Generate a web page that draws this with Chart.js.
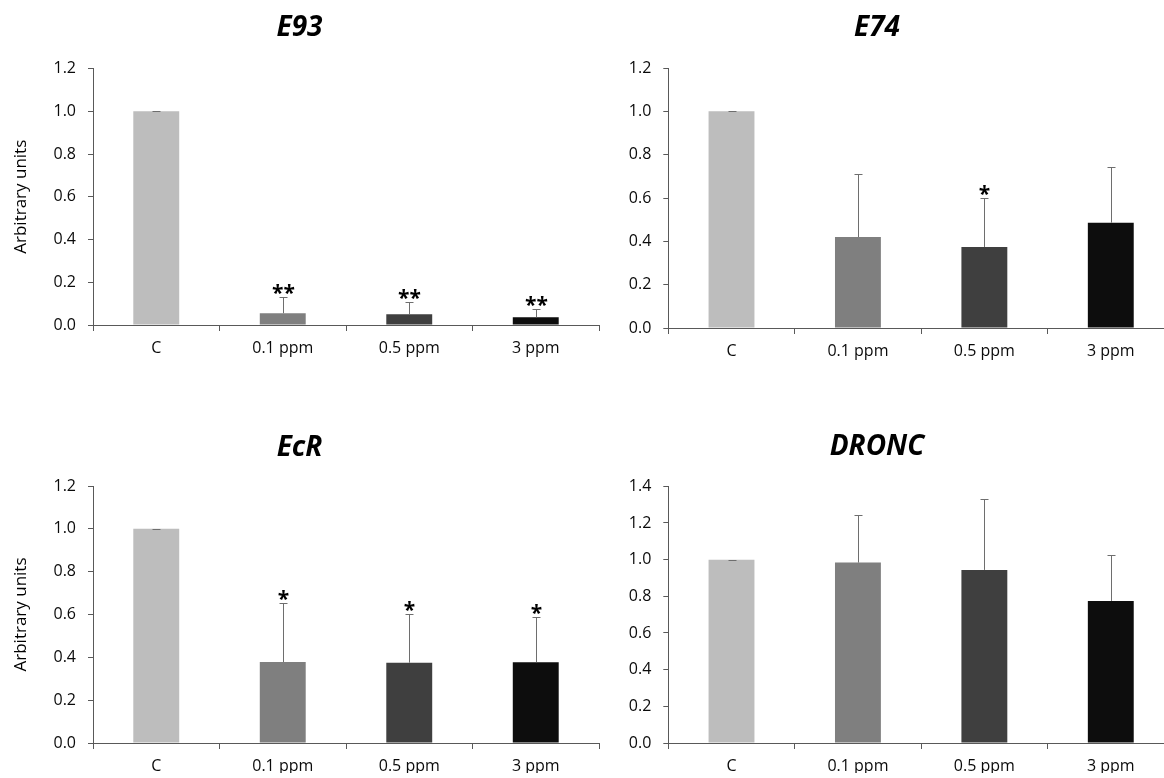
<!DOCTYPE html>
<html>
<head>
<meta charset="utf-8">
<title>Relative expression of ecdysone-related genes</title>
<script src="https://cdn.jsdelivr.net/npm/chart.js@4.4.1/dist/chart.umd.min.js"></script>
<style>
  html, body { margin: 0; padding: 0; background: #ffffff; }
  body { position: relative; width: 1164px; height: 778px; overflow: hidden; }
  canvas { position: absolute; }
</style>
</head>
<body>
<script>
// Treatment groups and bar fills
const categories = ['C', '0.1 ppm', '0.5 ppm', '3 ppm'];
const barColors = ['#bdbdbd', '#7f7f7f', '#3f3f3f', '#0d0d0d'];

// E93
const e93Values = [1.0, 0.055, 0.05, 0.036];
const e93Errors = [0, 0.077, 0.056, 0.040];
const e93Marks = ['', '**', '**', '**'];

// E74
const e74Values = [1.0, 0.42, 0.374, 0.486];
const e74Errors = [0, 0.29, 0.226, 0.255];
const e74Marks = ['', '', '*', ''];

// EcR
const ecrValues = [1.0, 0.378, 0.375, 0.377];
const ecrErrors = [0, 0.275, 0.227, 0.213];
const ecrMarks = ['', '*', '*', '*'];

// DRONC
const droncValues = [1.0, 0.984, 0.944, 0.775];
const droncErrors = [0, 0.26, 0.389, 0.251];
const droncMarks = ['', '', '', ''];

// Y axis ranges and tick spacing
const yMaxLow = 1.2;
const yMaxHigh = 1.4;
const yStep = 0.2;
const yAxisTitle = 'Arbitrary units';

const axisColor = '#595959';
const labelColor = '#0a0a0a';
const errorColor = '#6e6e6e';

Chart.defaults.font.family = "'Open Sans', 'DejaVu Sans', sans-serif";

// Upper error whiskers with caps, plus significance asterisks above them
const errorBarPlugin = {
  id: 'errorBars',
  afterDatasetsDraw(chart) {
    const ctx = chart.ctx;
    const ys = chart.scales.y;
    chart.data.datasets.forEach((ds, di) => {
      const meta = chart.getDatasetMeta(di);
      meta.data.forEach((bar, i) => {
        const v = ds.data[i];
        const e = ds.errors[i];
        const x = Math.round(bar.x) + 0.5;
        const yBar = ys.getPixelForValue(v);
        const yTop = Math.round(ys.getPixelForValue(v + e)) + 0.5;
        ctx.save();
        ctx.strokeStyle = errorColor;
        ctx.lineWidth = 1;
        ctx.beginPath();
        if (e > 0) {
          ctx.moveTo(x, yBar);
          ctx.lineTo(x, yTop);
        }
        ctx.moveTo(x - 4, yTop);
        ctx.lineTo(x + 4, yTop);
        ctx.stroke();
        const mark = ds.marks[i];
        if (mark) {
          ctx.fillStyle = '#000000';
          ctx.font = "bold 21px 'Open Sans', sans-serif";
          ctx.textAlign = 'center';
          ctx.textBaseline = 'alphabetic';
          ctx.fillText(mark, x, yTop - 10 + 12);
        }
        ctx.restore();
      });
    });
  }
};

function makePanel(p) {
  const canvas = document.createElement('canvas');
  canvas.width = p.w;
  canvas.height = p.h;
  canvas.style.left = p.left + 'px';
  canvas.style.top = p.top + 'px';
  canvas.style.width = p.w + 'px';
  canvas.style.height = p.h + 'px';
  document.body.appendChild(canvas);

  new Chart(canvas, {
    type: 'bar',
    data: {
      labels: categories,
      datasets: [{
        data: p.values,
        errors: p.errors,
        marks: p.marks,
        backgroundColor: barColors,
        borderWidth: 0,
        barPercentage: 0.363,
        categoryPercentage: 1
      }]
    },
    options: {
      responsive: false,
      animation: false,
      events: [],
      layout: { padding: p.pad },
      plugins: {
        legend: { display: false },
        tooltip: { enabled: false },
        title: {
          display: true,
          text: p.title,
          color: '#000000',
          font: { size: 28, weight: 'bold', style: 'italic', lineHeight: 1.2 },
          padding: { top: 0, bottom: p.titleGap }
        }
      },
      scales: {
        x: {
          grid: { drawOnChartArea: false, drawTicks: true, tickLength: 6, color: axisColor, offset: true },
          border: { display: true, color: axisColor, width: 1 },
          ticks: { color: labelColor, font: { size: 16 }, padding: 8, maxRotation: 0 },
          afterFit: s => { s.height = p.xH; }
        },
        y: {
          min: 0,
          max: p.yMax,
          grid: { drawOnChartArea: false, drawTicks: true, tickLength: 5, color: axisColor },
          border: { display: true, color: axisColor, width: 1 },
          ticks: {
            stepSize: yStep,
            color: labelColor,
            font: { size: 16 },
            padding: 12,
            callback: v => Number(v).toFixed(1)
          },
          title: {
            display: p.yTitle,
            text: yAxisTitle,
            color: '#000000',
            font: { size: 17 },
            padding: { top: 11, bottom: 0 }
          },
          afterFit: s => { s.width = p.yW; }
        }
      }
    },
    plugins: [errorBarPlugin]
  });
}

const panels = [
  { title: 'E93', values: e93Values, errors: e93Errors, marks: e93Marks, yMax: yMaxLow, yTitle: true,
    left: 0, top: 0, w: 658, h: 390, yW: 93, xH: 40, titleGap: 23.7,
    pad: { left: 0, right: 59, top: 11.2, bottom: 25 } },
  { title: 'E74', values: e74Values, errors: e74Errors, marks: e74Marks, yMax: yMaxLow, yTitle: false,
    left: 580, top: 0, w: 648, h: 390, yW: 88.3, xH: 40, titleGap: 23.2,
    pad: { left: 0, right: 54, top: 11.2, bottom: 22 } },
  { title: 'EcR', values: ecrValues, errors: ecrErrors, marks: ecrMarks, yMax: yMaxLow, yTitle: true,
    left: 0, top: 380, w: 658, h: 398, yW: 93, xH: 30, titleGap: 21.5,
    pad: { left: 0, right: 59, top: 50.9, bottom: 5 } },
  { title: 'DRONC', values: droncValues, errors: droncErrors, marks: droncMarks, yMax: yMaxHigh, yTitle: false,
    left: 580, top: 380, w: 648, h: 398, yW: 88.3, xH: 30, titleGap: 22.5,
    pad: { left: 0, right: 54, top: 50.2, bottom: 5 } }
];

panels.forEach(makePanel);
</script>
</body>
</html>
